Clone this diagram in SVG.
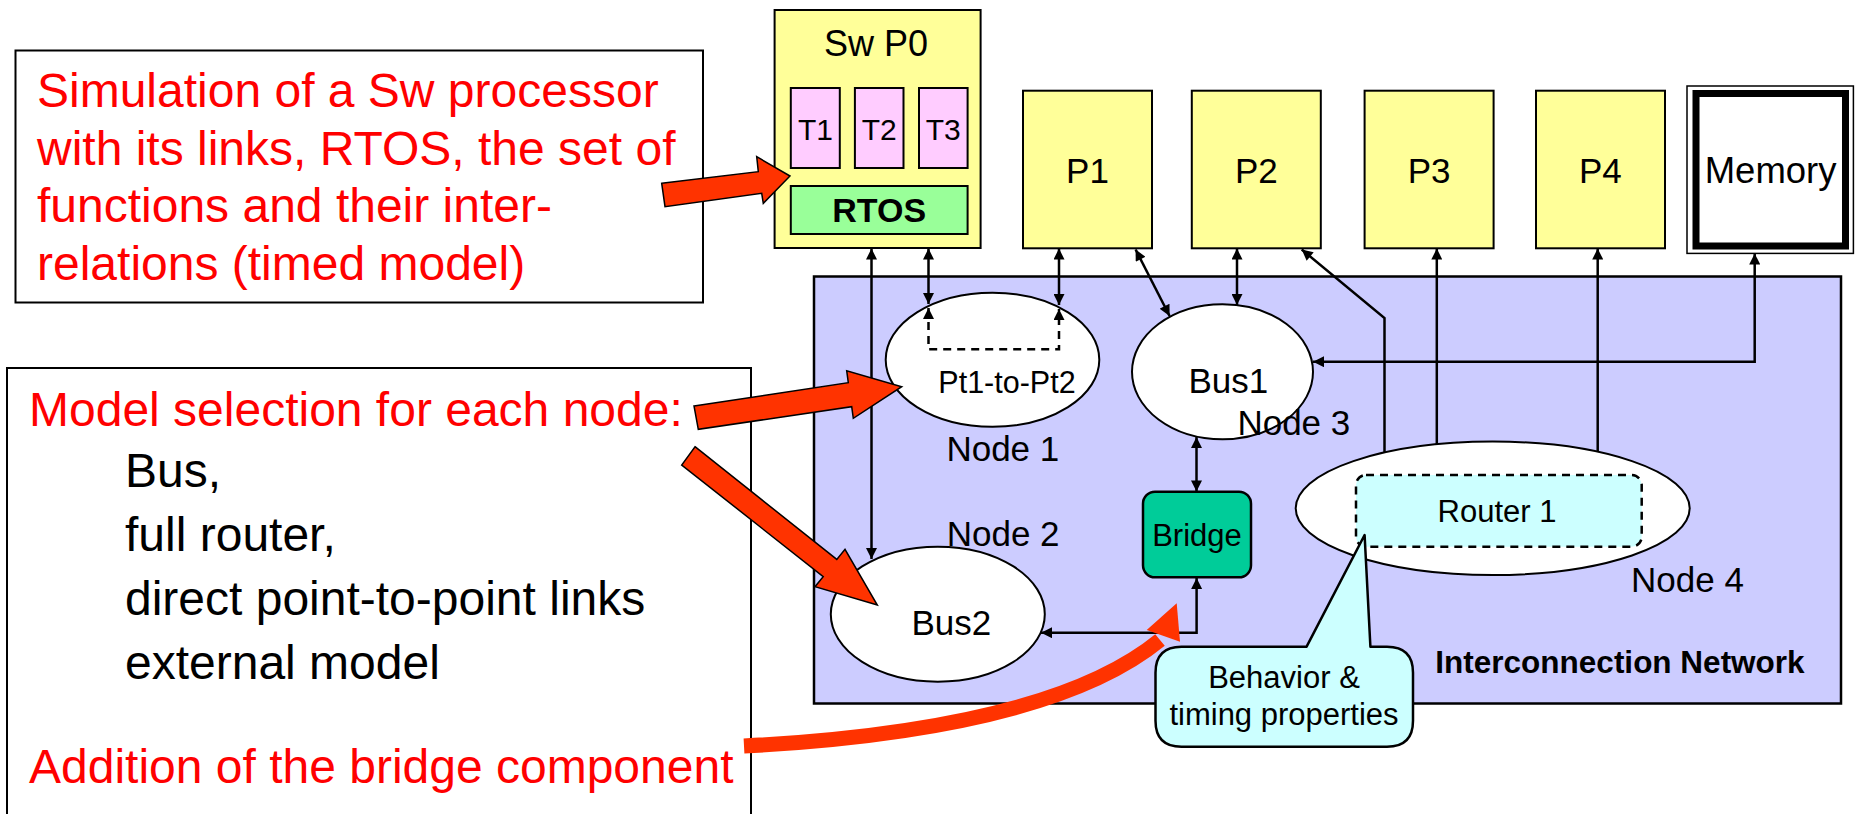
<svg xmlns="http://www.w3.org/2000/svg" width="1857" height="814" viewBox="0 0 1857 814">
<style>
text{font-family:"Liberation Sans",Arial,Helvetica,sans-serif;fill:#000}
.big{font-size:48px}
.red{fill:#FF0000}
.c{text-anchor:middle}
.proc{fill:#FFFF99;stroke:#000;stroke-width:2}
.task{fill:#FFCCFF;stroke:#000;stroke-width:2}
.node{fill:#FFFFFF;stroke:#000;stroke-width:2}
.lbl{font-size:35px}
.sm{font-size:31px}
.conn{fill:none;stroke:#000;stroke-width:2.5}
.dash{stroke-dasharray:8 6}
.red-arrow{fill:#FF3300;stroke:#000;stroke-width:1.5}
</style>
<defs>
<marker id="ah" viewBox="0 0 10 10" refX="10" refY="5" markerWidth="13" markerHeight="11" markerUnits="userSpaceOnUse" orient="auto-start-reverse">
<path d="M0,0 L10,5 L0,10 z" fill="#000"/>
</marker>
</defs>
<rect width="1857" height="814" fill="#FFFFFF"/>

<g id="note-sim">
<rect x="15.5" y="50.5" width="687.5" height="252" fill="#FFFFFF" stroke="#000" stroke-width="2"/>
<text class="big red" x="37" y="107">Simulation of a Sw processor</text>
<text class="big red" x="37" y="165">with its links, RTOS, the set of</text>
<text class="big red" x="37" y="222">functions and their inter-</text>
<text class="big red" x="37" y="280">relations (timed model)</text>
</g>

<g id="note-model">
<rect x="7" y="368" width="744" height="460" fill="#FFFFFF" stroke="#000" stroke-width="2"/>
<text class="big red" x="29" y="426">Model selection for each node:</text>
<text class="big" x="125" y="487">Bus,</text>
<text class="big" x="125" y="551">full router,</text>
<text class="big" x="125" y="615">direct point-to-point links</text>
<text class="big" x="125" y="679">external model</text>
<text class="big red" x="29" y="783">Addition of the bridge component</text>
</g>

<g id="interconnection-network">
<rect x="814" y="276.5" width="1027" height="427" fill="#CCCCFF" stroke="#000" stroke-width="2.5"/>
<text x="1620" y="673" font-size="31.5" font-weight="bold" class="c">Interconnection Network</text>
</g>

<g id="sw-p0">
<rect class="proc" x="774.6" y="10" width="206" height="238"/>
<text class="c" x="876" y="56" font-size="36">Sw P0</text>
<rect class="task" x="790.8" y="88" width="49" height="80"/>
<rect class="task" x="854.9" y="88" width="48.6" height="80"/>
<rect class="task" x="919" y="88" width="48.6" height="80"/>
<text class="c" x="815.4" y="140" font-size="30">T1</text>
<text class="c" x="879.2" y="140" font-size="30">T2</text>
<text class="c" x="943.3" y="140" font-size="30">T3</text>
<rect x="790.8" y="186" width="176.8" height="48" fill="#99FF99" stroke="#000" stroke-width="2"/>
<text class="c" x="879.2" y="222" font-size="34" font-weight="bold">RTOS</text>
</g>

<g id="p1"><rect class="proc" x="1023" y="90.7" width="129" height="157.6"/><text class="c" x="1087.5" y="183" font-size="35">P1</text></g>
<g id="p2"><rect class="proc" x="1191.8" y="90.7" width="129" height="157.6"/><text class="c" x="1256.3" y="183" font-size="35">P2</text></g>
<g id="p3"><rect class="proc" x="1364.6" y="90.7" width="129" height="157.6"/><text class="c" x="1429.1" y="183" font-size="35">P3</text></g>
<g id="p4"><rect class="proc" x="1536" y="90.7" width="129" height="157.6"/><text class="c" x="1600.4" y="183" font-size="35">P4</text></g>
<g id="memory">
<rect x="1687" y="86" width="166.4" height="167.4" fill="#FFFFFF" stroke="#000" stroke-width="1.5"/>
<rect x="1696" y="93.5" width="149.5" height="152.5" fill="#FFFFFF" stroke="#000" stroke-width="7"/>
<text class="c" x="1770.6" y="183" font-size="36.5">Memory</text>
</g>

<g id="node1">
<ellipse class="node" cx="992.5" cy="359.7" rx="106.8" ry="67"/>
<text class="c" x="1007" y="392.7" font-size="30.5">Pt1-to-Pt2</text>
<text class="lbl" x="946.4" y="460.7">Node 1</text>
</g>
<g id="node3">
<ellipse class="node" cx="1222.5" cy="371.8" rx="90.5" ry="67.5"/>
<text class="c lbl" x="1228.4" y="392.7">Bus1</text>
<text class="lbl" x="1237.4" y="435">Node 3</text>
</g>
<g id="node2">
<ellipse class="node" cx="937.8" cy="614.2" rx="107" ry="67.5"/>
<text class="c lbl" x="951.4" y="635">Bus2</text>
<text class="lbl" x="946.7" y="546">Node 2</text>
</g>
<g id="bridge">
<rect x="1143" y="491.7" width="108" height="85.6" rx="12" fill="#00CC99" stroke="#000" stroke-width="2.5"/>
<text class="c sm" x="1197" y="546">Bridge</text>
</g>
<g id="node4">
<ellipse class="node" cx="1492.7" cy="508.3" rx="197" ry="66.7"/>
<rect x="1356" y="475" width="285.7" height="71.7" rx="10" fill="#CCFFFF" stroke="#000" stroke-width="2.5" stroke-dasharray="8 6"/>
<text class="c sm" x="1497" y="521.7">Router 1</text>
<text class="lbl" x="1631" y="591.7">Node 4</text>
</g>

<g id="connectors">
<path class="conn" d="M871.5,248.5 L871.5,559" marker-start="url(#ah)" marker-end="url(#ah)"/>
<path class="conn" d="M928.5,248.5 L928.5,304" marker-start="url(#ah)" marker-end="url(#ah)"/>
<path class="conn" d="M1059,248.5 L1059,305" marker-start="url(#ah)" marker-end="url(#ah)"/>
<path class="conn dash" d="M928.5,308 L928.5,349.3 L1059,349.3 L1059,309" marker-start="url(#ah)" marker-end="url(#ah)"/>
<path class="conn" d="M1135.6,249.5 L1169.6,316" marker-start="url(#ah)" marker-end="url(#ah)"/>
<path class="conn" d="M1237,248.5 L1237,305" marker-start="url(#ah)" marker-end="url(#ah)"/>
<path class="conn" d="M1384.5,452.6 L1384.5,318 L1301.7,249.5" marker-end="url(#ah)"/>
<path class="conn" d="M1436.8,444.3 L1436.8,248.5" marker-end="url(#ah)"/>
<path class="conn" d="M1597.7,452 L1597.7,248.5" marker-end="url(#ah)"/>
<path class="conn" d="M1313,361.7 L1754.7,361.7 L1754.7,253.5" marker-start="url(#ah)" marker-end="url(#ah)"/>
<path class="conn" d="M1196.5,437 L1196.5,491.5" marker-start="url(#ah)" marker-end="url(#ah)"/>
<path class="conn" d="M1196.6,578 L1196.6,632.7 L1041,632.7" marker-start="url(#ah)" marker-end="url(#ah)"/>
</g>

<g id="callout">
<path d="M1181.5,646.7 L1306.6,646.7 L1364.6,535 L1370.4,646.7 L1387,646.7 Q1413,646.7 1413,672.7 L1413,720.7 Q1413,746.7 1387,746.7 L1181.5,746.7 Q1155.5,746.7 1155.5,720.7 L1155.5,672.7 Q1155.5,646.7 1181.5,646.7 Z" fill="#CCFFFF" stroke="#000" stroke-width="2.5" stroke-linejoin="round"/>
<text class="c sm" x="1284" y="688">Behavior &amp;</text>
<text class="c sm" x="1284" y="725">timing properties</text>
</g>

<g id="red-arrows">
<polygon class="red-arrow" points="661.7,183.3 758.3,171.7 756.7,156.7 790,176 763.3,203.3 761.7,193.3 665,206.7"/>
<polygon class="red-arrow" points="694,406 848.3,382.7 846.7,370.7 901.7,386.7 853.3,418.3 851.7,406.7 698.3,429.3"/>
<polygon class="red-arrow" points="695,446.7 836.8,559.4 845,549.3 877.3,605 815,586.7 823.2,576.6 681.7,465"/>
<path d="M744,746 Q1050,730 1160,640" fill="none" stroke="#FF3300" stroke-width="15"/>
<polygon points="1146.7,630 1176.7,603.3 1180,641.7" fill="#FF3300"/>
</g>
</svg>
